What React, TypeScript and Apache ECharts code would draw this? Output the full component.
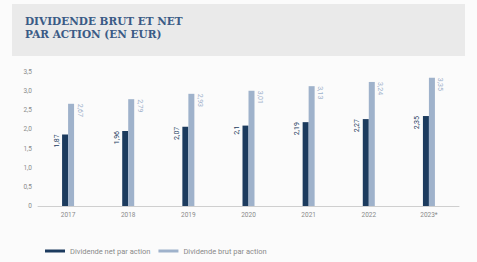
import React, { useEffect, useRef } from "react";
import * as echarts from "echarts";

const categories = ["2017", "2018", "2019", "2020", "2021", "2022", "2023*"];
const netValues = [1.87, 1.96, 2.07, 2.1, 2.19, 2.27, 2.35];
const grossValues = [2.67, 2.79, 2.93, 3.01, 3.13, 3.24, 3.35];
const yTicks = [0, 0.5, 1, 1.5, 2, 2.5, 3, 3.5];
const title = ["DIVIDENDE BRUT ET NET", "PAR ACTION (EN EUR)"];
const seriesNames = ["Dividende net par action", "Dividende brut par action"];

const NAVY = "#1c3b5e";
const LIGHT = "#9fb2cb";
const fmt = (v: number) => String(v).replace(".", ",");

export default function App() {
  const ref = useRef<HTMLDivElement>(null);
  useEffect(() => {
    if (!ref.current) return;
    const chart = echarts.init(ref.current, null, { renderer: "svg" });
    chart.setOption({
      animation: false,
      backgroundColor: "#fbfbfb",
      graphic: [
        { type: "rect", left: 12, top: 4, shape: { width: 453, height: 52 }, style: { fill: "#eaeaea" }, z: -1 },
        {
          type: "text",
          left: 25,
          top: 14,
          style: {
            text: title.join("\n"),
            fill: "#3b5b86",
            font: "bold 10.5px 'DejaVu Serif'",
            lineHeight: 13,
          },
        },
      ],
      legend: {
        left: 40,
        top: 242,
        itemWidth: 20,
        itemHeight: 3,
        itemGap: 8,
        icon: "rect",
        textStyle: { fontSize: 7.5, color: "#8a8a8a", fontFamily: "Roboto" },
        data: seriesNames,
      },
      grid: { left: 38, right: 18, top: 72, bottom: 56 },
      xAxis: {
        type: "category",
        data: categories,
        axisLine: { lineStyle: { color: "#cfcfcf" } },
        axisTick: { show: false },
        axisLabel: { fontSize: 6.5, color: "#8a8a8a", margin: 5, fontFamily: "Roboto" },
      },
      yAxis: {
        type: "value",
        min: 0,
        max: 3.5,
        interval: 0.5,
        axisLine: { show: false },
        axisTick: { show: false },
        splitLine: { show: false },
        axisLabel: {
          fontSize: 6.5,
          color: "#8a8a8a",
          margin: 6,
          fontFamily: "Roboto",
          formatter: (v: number) => (v === 0 ? "0" : v.toFixed(1).replace(".", ",")),
          customValues: yTicks,
        },
      },
      series: [
        {
          name: seriesNames[0],
          type: "bar",
          data: netValues,
          barWidth: 6,
          barGap: "0%",
          itemStyle: { color: NAVY },
          label: {
            show: true,
            position: [-2, 0],
            rotate: 90,
            align: "right",
            verticalAlign: "bottom",
            fontSize: 7,
            color: NAVY,
            fontFamily: "Roboto",
            formatter: (p: any) => fmt(p.value),
          },
        },
        {
          name: seriesNames[1],
          type: "bar",
          data: grossValues,
          barWidth: 6,
          itemStyle: { color: LIGHT },
          label: {
            show: true,
            position: [8, 0],
            rotate: -90,
            align: "left",
            verticalAlign: "bottom",
            fontSize: 7,
            color: LIGHT,
            fontFamily: "Roboto",
            formatter: (p: any) => fmt(p.value),
          },
        },
      ],
    });
    return () => chart.dispose();
  }, []);
  return <div ref={ref} style={{ position: "fixed", left: 0, top: 0, width: 477, height: 262 }} />;
}
